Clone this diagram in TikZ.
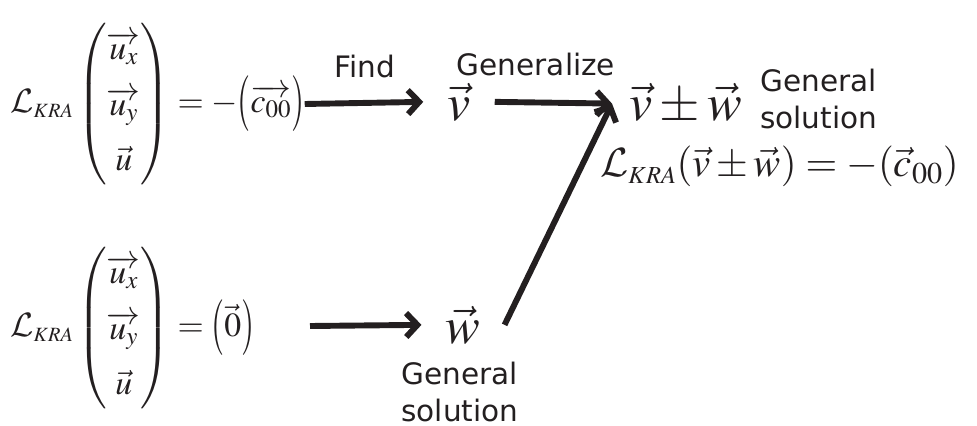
\documentclass[tikz,border=0pt]{standalone}
\usepackage{fix-cm}
\usepackage{amsmath}
\usepackage{mathptmx}
\usepackage{graphicx}
\usepackage[no-math]{fontspec}
\usepackage{xcolor}
\usepackage{tikz}
\usetikzlibrary{arrows.meta}
\newfontfamily\labelfont{DejaVu Sans}
\DeclareMathAlphabet{\mathkra}{OMS}{cmsy}{m}{n}
\newcommand{\openTall}{\mathopen{\vcenter{\hbox{\scalebox{1}[1.65]{$($}}}}}
\newcommand{\closeTall}{\mathclose{\vcenter{\hbox{\scalebox{1}[1.65]{$)$}}}}}
\newcommand{\Lkra}{\mathkra{L}_{\scriptscriptstyle KRA}}
\definecolor{inkdark}{HTML}{231F20}
\tikzset{
  flow/.style={line width=4.2pt, -{Straight Barb[length=8pt,width=17pt]}},
  eqn/.style={inner sep=0pt, font=\fontsize{24}{32}\selectfont},
  vecbig/.style={font=\fontsize{37}{44}\selectfont, inner ysep=4pt, inner xsep=17pt},
  lbl/.style={inner sep=0pt, font=\labelfont\fontsize{21}{27}\selectfont},
}

\begin{document}
\begin{tikzpicture}[x=0.025cm, y=-0.025cm, inkdark]
  \useasboundingbox (0,0) rectangle (977,426);
  % the two systems on the left
  \node[eqn, anchor=west] (topeq) at (10,104)
    {$\renewcommand{\arraystretch}{1.24}\Lkra\left(\begin{matrix}\overrightarrow{u_x}\\ \overrightarrow{u_y}\\ \vec{u}\end{matrix}\right)={-}\openTall\overrightarrow{c_{00}}\closeTall$};
  \node[eqn, anchor=west] (boteq) at (10,328)
    {$\renewcommand{\arraystretch}{1.24}\Lkra\left(\begin{matrix}\overrightarrow{u_x}\\ \overrightarrow{u_y}\\ \vec{u}\end{matrix}\right)=\openTall\vec{0}\closeTall$};
  % solutions
  \node[vecbig, anchor=base] (v) at (459,120) {$\vec{v}$};
  \node[vecbig, anchor=base] (w) at (463,343) {$\vec{w}$};
  \node[vecbig, anchor=base west, inner xsep=12pt] (sum) at (612,120) {$\vec{v}\pm\vec{w}$};
  \node[inner sep=0pt, font=\fontsize{29}{35}\selectfont, anchor=base west] (check) at (600,177)
    {$\Lkra(\vec{v}\pm\vec{w})={-}(\vec{c}_{00})$};
  % labels
  \node[lbl, anchor=base] (find) at (365,78) {Find};
  \node[lbl, anchor=base] (gen) at (536,76) {Generalize};
  \node[lbl, anchor=west, align=left] (gensol) at (760,99) {General\\solution};
  \node[lbl, align=center] (wsol) at (460,392) {General\\solution};
  % arrows
  \coordinate (wfrom) at (310,326);
  \draw[flow] (topeq.east) -- (v.west);
  \draw[flow] (v.east) -- (sum.west);
  \draw[flow] (wfrom) -- (w.west);
  \draw[flow] (w.east) -- (sum.west);
\end{tikzpicture}
\end{document}
